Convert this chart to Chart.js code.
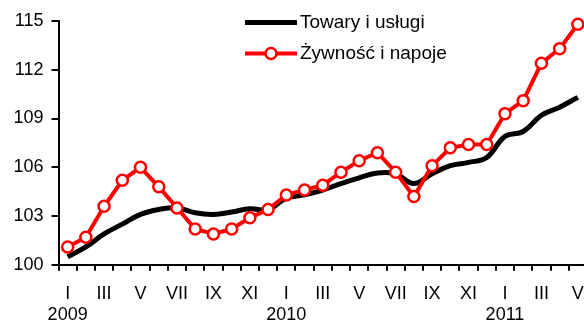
<!DOCTYPE html>
<html>
<head>
<meta charset="utf-8">
<script src="https://cdn.jsdelivr.net/npm/chart.js@4.4.1/dist/chart.umd.min.js"></script>
<style>
  html, body { margin: 0; padding: 0; background: #fff; overflow: hidden; }
  #wrap { width: 596px; height: 338px; position: relative; }
</style>
</head>
<body>
<div id="wrap"><canvas id="c"></canvas></div>
<script>
// Monthly price indices, January 2009 – May 2011
const months = ['I','II','III','IV','V','VI','VII','VIII','IX','X','XI','XII',
                'I','II','III','IV','V','VI','VII','VIII','IX','X','XI','XII',
                'I','II','III','IV','V'];
const years = ['2009', '2010', '2011'];

const seriesNames = ['Towary i usługi', 'Żywność i napoje'];

const towaryIUslugi = [100.5, 101.1, 101.9, 102.5, 103.1, 103.4, 103.5, 103.2, 103.1, 103.25, 103.45, 103.4,
                       104.1, 104.3, 104.6, 105.0, 105.35, 105.65, 105.6, 105.0, 105.6, 106.1, 106.3, 106.6,
                       107.9, 108.2, 109.2, 109.7, 110.3];

const zywnoscINapoje = [101.1, 101.7, 103.6, 105.2, 106.0, 104.8, 103.5, 102.2, 101.9, 102.2, 102.9, 103.4,
                        104.3, 104.6, 104.9, 105.7, 106.4, 106.9, 105.7, 104.2, 106.1, 107.2, 107.4, 107.4,
                        109.3, 110.1, 112.4, 113.3, 114.8];

const FONT = 'Liberation Sans, Arial, sans-serif';

// Legend drawn inside the plot area, in the upper middle
const insideLegend = {
  id: 'insideLegend',
  afterDraw(chart) {
    const ctx = chart.ctx;
    const x0 = 245, x1 = 297, tx = 300;
    const rows = [22.5, 53.5];
    ctx.save();
    ctx.lineCap = 'butt';
    // black row
    ctx.strokeStyle = '#000';
    ctx.lineWidth = 5;
    ctx.beginPath(); ctx.moveTo(x0, rows[0]); ctx.lineTo(x1, rows[0]); ctx.stroke();
    // red row with marker
    ctx.strokeStyle = '#ff0000';
    ctx.lineWidth = 4;
    ctx.beginPath(); ctx.moveTo(x0, rows[1]); ctx.lineTo(x1, rows[1]); ctx.stroke();
    ctx.fillStyle = '#fff';
    ctx.lineWidth = 2.5;
    ctx.beginPath(); ctx.arc((x0 + x1) / 2, rows[1], 5.5, 0, Math.PI * 2); ctx.fill(); ctx.stroke();
    // labels
    ctx.fillStyle = '#000';
    ctx.font = '19px ' + FONT;
    ctx.textBaseline = 'middle';
    ctx.textAlign = 'left';
    ctx.fillText(seriesNames[0], tx, rows[0]);
    ctx.fillText(seriesNames[1], tx, rows[1]);
    ctx.restore();
  }
};

new Chart(document.getElementById('c'), {
  type: 'line',
  data: {
    labels: months,
    datasets: [
      {
        label: seriesNames[0],
        data: towaryIUslugi,
        borderColor: '#000',
        borderWidth: 5,
        tension: 0.4,
        pointRadius: 0,
        order: 1,
        clip: false
      },
      {
        label: seriesNames[1],
        data: zywnoscINapoje,
        borderColor: '#ff0000',
        borderWidth: 4,
        tension: 0,
        pointRadius: 5.5,
        pointBorderWidth: 2.5,
        pointBackgroundColor: '#fff',
        pointBorderColor: '#ff0000',
        order: 0,
        clip: false
      }
    ]
  },
  options: {
    responsive: true,
    maintainAspectRatio: false,
    animation: false,
    devicePixelRatio: 1,
    layout: { padding: { left: 5.5, top: 21, right: 0, bottom: 0 } },
    plugins: { legend: { display: false }, tooltip: { enabled: false } },
    scales: {
      x: {
        offset: true,
        grid: { offset: true, drawOnChartArea: false, drawTicks: true, tickLength: 6, color: '#000', lineWidth: 2 },
        border: { color: '#000', width: 2 },
        ticks: {
          autoSkip: false,
          maxRotation: 0,
          padding: 12,
          color: '#000',
          font: { family: FONT, size: 18, lineHeight: 1.2 },
          callback: function (value, index) {
            if (index % 2) return '';
            const m = months[index];
            if (m === 'I') return [m, years[Math.floor(index / 12)]];
            return m;
          }
        }
      },
      y: {
        min: 100,
        max: 115,
        grid: { drawOnChartArea: false, drawTicks: true, tickLength: 7, color: '#000', lineWidth: 2 },
        border: { color: '#000', width: 2 },
        ticks: {
          stepSize: 3,
          padding: 8,
          color: '#000',
          font: { family: FONT, size: 18 }
        }
      }
    }
  },
  plugins: [insideLegend]
});
</script>
</body>
</html>
